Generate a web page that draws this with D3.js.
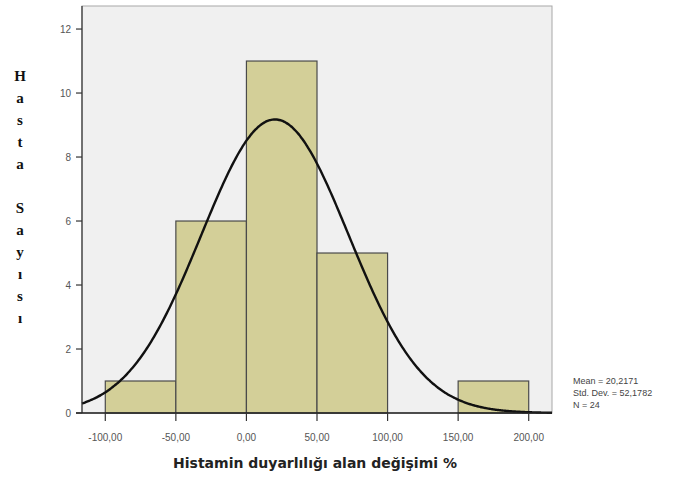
<!DOCTYPE html>
<html>
<head>
<meta charset="utf-8">
<script src="https://cdn.jsdelivr.net/npm/d3@7"></script>
<style>
  html, body { margin: 0; padding: 0; background: #ffffff; }
  svg { display: block; }
</style>
</head>
<body>
<svg id="chart" width="688" height="481"></svg>
<script>
// ---- data ----
const binStarts = [-100, -50, 0, 50, 100, 150];
const binEnds   = [-50, 0, 50, 100, 150, 200];
const counts    = [1, 6, 11, 5, 0, 1];
const yTicks = [0, 2, 4, 6, 8, 10, 12];
const xTicks = [-100, -50, 0, 50, 100, 150, 200];
const xTickLabels = ["-100,00", "-50,00", "0,00", "50,00", "100,00", "150,00", "200,00"];
const statLines = ["Mean = 20,2171", "Std. Dev. = 52,1782", "N = 24"];
const yLabelChars = ["H", "a", "s", "t", "a", "", "S", "a", "y", "ı", "s", "ı"];
const xTitle = "Histamin duyarlılığı alan değişimi %";
const mean = 20.2171, sd = 52.1782, n = 24, binWidth = 50;

// ---- layout ----
const svg = d3.select("#chart");
const pL = 82, pR = 552, pT = 6, pB = 413;
const x = d3.scaleLinear().domain([-116.5, 216.5]).range([pL, pR]);
const y = d3.scaleLinear().domain([0, 12.72]).range([pB, pT]);

// plot background
svg.append("rect")
  .attr("x", pL).attr("y", pT)
  .attr("width", pR - pL).attr("height", pB - pT)
  .attr("fill", "#f0f0f0")
  .attr("stroke", "#a8a8a8").attr("stroke-width", 1);

// bars
const bars = binStarts.map((s, i) => ({ s, e: binEnds[i], c: counts[i] })).filter(d => d.c > 0);
svg.append("g").selectAll("rect").data(bars).join("rect")
  .attr("x", d => x(d.s))
  .attr("y", d => y(d.c))
  .attr("width", d => x(d.e) - x(d.s))
  .attr("height", d => y(0) - y(d.c))
  .attr("fill", "#d3cf98")
  .attr("stroke", "#4a4a4a")
  .attr("stroke-width", 1.2);

// normal curve from displayed statistics
const xs = d3.range(-116.5, 216.6, 1);
const curve = xs.map(v => [v, n * binWidth * Math.exp(-0.5 * ((v - mean) / sd) ** 2) / (sd * Math.sqrt(2 * Math.PI))]);
svg.append("path")
  .datum(curve)
  .attr("fill", "none")
  .attr("stroke", "#111")
  .attr("stroke-width", 2.4)
  .attr("d", d3.line().x(d => x(d[0])).y(d => y(d[1])).curve(d3.curveBasis));

// axes lines
svg.append("line").attr("x1", pL).attr("x2", pL).attr("y1", pT).attr("y2", pB)
  .attr("stroke", "#333").attr("stroke-width", 1.2);
svg.append("line").attr("x1", pL - 6).attr("x2", pR).attr("y1", pB).attr("y2", pB)
  .attr("stroke", "#222").attr("stroke-width", 1.5);

// y ticks
const yt = svg.append("g");
yt.selectAll("line").data(yTicks).join("line")
  .attr("x1", pL - 6).attr("x2", pL)
  .attr("y1", d => y(d)).attr("y2", d => y(d))
  .attr("stroke", "#333").attr("stroke-width", 1.2);
yt.selectAll("text").data(yTicks).join("text")
  .attr("x", pL - 11).attr("y", d => y(d) + 3.5)
  .attr("text-anchor", "end")
  .attr("font-family", "Liberation Sans, Arial, sans-serif")
  .attr("font-size", 10).attr("fill", "#555")
  .text(d => d);

// x ticks
const xt = svg.append("g");
xt.selectAll("line").data(xTicks).join("line")
  .attr("x1", d => x(d)).attr("x2", d => x(d))
  .attr("y1", pB).attr("y2", pB + 8)
  .attr("stroke", "#333").attr("stroke-width", 1.2);
xt.selectAll("text").data(xTicks).join("text")
  .attr("x", d => x(d)).attr("y", pB + 28)
  .attr("text-anchor", "middle")
  .attr("font-family", "Liberation Sans, Arial, sans-serif")
  .attr("font-size", 10).attr("fill", "#555")
  .text((d, i) => xTickLabels[i]);

// x title
svg.append("text")
  .attr("x", 315).attr("y", 468)
  .attr("text-anchor", "middle")
  .attr("font-family", "DejaVu Sans, Verdana, sans-serif")
  .attr("font-weight", "bold")
  .attr("font-size", 14).attr("fill", "#222")
  .text(xTitle);

// y label (stacked letters)
svg.append("g").selectAll("text").data(yLabelChars).join("text")
  .attr("x", 20).attr("y", (d, i) => 81 + i * 22)
  .attr("text-anchor", "middle")
  .attr("font-family", "Liberation Serif, Times New Roman, serif")
  .attr("font-weight", "bold")
  .attr("font-size", 15).attr("fill", "#111")
  .text(d => d);

// statistics
svg.append("g").selectAll("text").data(statLines).join("text")
  .attr("x", 573).attr("y", (d, i) => 384 + i * 12)
  .attr("font-family", "Liberation Sans, Arial, sans-serif")
  .attr("font-size", 9).attr("fill", "#444")
  .text(d => d);
</script>
</body>
</html>
